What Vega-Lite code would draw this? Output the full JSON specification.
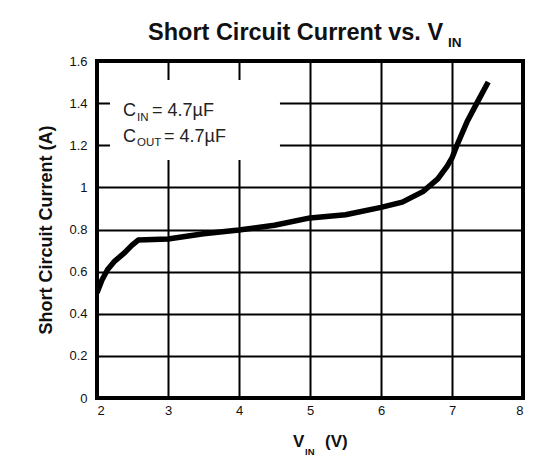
{
  "$schema": "https://vega.github.io/schema/vega-lite/v6.json",
  "width": 426,
  "height": 337,
  "autosize": {"type": "none"},
  "padding": {"left": 97, "top": 61, "right": 26, "bottom": 75},
  "background": "white",
  "config": {
    "view": {"stroke": "black", "strokeWidth": 4},
    "font": "Liberation Sans"
  },
  "datasets": {
    "curve": [
      {"x": 2.0, "y": 0.5},
      {"x": 2.07, "y": 0.56},
      {"x": 2.15, "y": 0.61},
      {"x": 2.25, "y": 0.65},
      {"x": 2.39, "y": 0.69},
      {"x": 2.49, "y": 0.725},
      {"x": 2.58, "y": 0.75},
      {"x": 3.0, "y": 0.755},
      {"x": 3.5, "y": 0.78},
      {"x": 4.0, "y": 0.798},
      {"x": 4.5, "y": 0.82},
      {"x": 5.0, "y": 0.855},
      {"x": 5.5, "y": 0.87},
      {"x": 6.0, "y": 0.905},
      {"x": 6.3, "y": 0.93},
      {"x": 6.59, "y": 0.98},
      {"x": 6.8, "y": 1.04},
      {"x": 6.93, "y": 1.1},
      {"x": 7.0, "y": 1.14},
      {"x": 7.07, "y": 1.2},
      {"x": 7.21, "y": 1.31},
      {"x": 7.35, "y": 1.4},
      {"x": 7.51, "y": 1.5}
    ],
    "box": [{"x": 2.183, "x2": 4.577, "y": 1.13, "y2": 1.51}],
    "labels": [
      {"part": "title", "text": "Short Circuit Current vs. V", "x": 2.7183, "y": 1.6997},
      {"part": "titlesub", "text": "IN", "x": 6.9437, "y": 1.6665},
      {"part": "note", "text": "C", "x": 2.3662, "y": 1.3389},
      {"part": "notesub", "text": "IN", "x": 2.5634, "y": 1.3151},
      {"part": "note", "text": "= 4.7µF", "x": 2.7746, "y": 1.3389},
      {"part": "note", "text": "C", "x": 2.3662, "y": 1.2154},
      {"part": "notesub", "text": "OUT", "x": 2.5634, "y": 1.1964},
      {"part": "note", "text": "= 4.7µF", "x": 2.9437, "y": 1.2154},
      {"part": "xtitle", "text": "V", "x": 4.7606, "y": -0.2326},
      {"part": "xtitlesub", "text": "IN", "x": 4.9296, "y": -0.2706},
      {"part": "xtitle", "text": "(V)", "x": 5.2113, "y": -0.2326}
    ]
  },
  "layer": [
    {
      "data": {"name": "box"},
      "mark": {"type": "rect", "fill": "white", "stroke": null},
      "encoding": {
        "x": {
          "field": "x", "type": "quantitative",
          "scale": {"domain": [2, 8], "nice": false, "zero": false},
          "axis": {
            "title": null, "values": [2, 3, 4, 5, 6, 7, 8], "format": "~g",
            "grid": true, "gridColor": "black", "gridWidth": 2, "gridOpacity": 1,
            "domain": false, "ticks": false, "labelPadding": 6,
            "labelFontSize": 13, "labelColor": "#111", "labelFont": "Liberation Sans"
          }
        },
        "x2": {"field": "x2"},
        "y": {
          "field": "y", "type": "quantitative",
          "scale": {"domain": [0, 1.6], "nice": false},
          "axis": {
            "title": "Short Circuit Current (A)",
            "values": [0, 0.2, 0.4, 0.6, 0.8, 1, 1.2, 1.4, 1.6], "format": "~g",
            "grid": true, "gridColor": "black", "gridWidth": 2, "gridOpacity": 1,
            "domain": false, "ticks": false, "labelPadding": 10,
            "labelFontSize": 13, "labelColor": "#111", "labelFont": "Liberation Sans",
            "titleFontSize": 18, "titleFontWeight": "bold", "titleColor": "#111",
            "titleFont": "Liberation Sans", "titlePadding": 13
          }
        },
        "y2": {"field": "y2"}
      }
    },
    {
      "data": {"name": "curve"},
      "mark": {"type": "line", "color": "black", "strokeWidth": 5.5, "clip": true, "strokeJoin": "round"},
      "encoding": {
        "x": {"field": "x", "type": "quantitative"},
        "y": {"field": "y", "type": "quantitative"}
      }
    },
    {
      "data": {"name": "labels"},
      "transform": [{"filter": "datum.part === 'title'"}],
      "mark": {"type": "text", "align": "left", "baseline": "alphabetic", "fontSize": 23.5, "fontWeight": "bold", "color": "#111", "font": "Liberation Sans"},
      "encoding": {
        "x": {"field": "x", "type": "quantitative"},
        "y": {"field": "y", "type": "quantitative"},
        "text": {"field": "text"}
      }
    },
    {
      "data": {"name": "labels"},
      "transform": [{"filter": "datum.part === 'titlesub'"}],
      "mark": {"type": "text", "align": "left", "baseline": "alphabetic", "fontSize": 13.5, "fontWeight": "bold", "color": "#111", "font": "Liberation Sans"},
      "encoding": {
        "x": {"field": "x", "type": "quantitative"},
        "y": {"field": "y", "type": "quantitative"},
        "text": {"field": "text"}
      }
    },
    {
      "data": {"name": "labels"},
      "transform": [{"filter": "datum.part === 'note'"}],
      "mark": {"type": "text", "align": "left", "baseline": "alphabetic", "fontSize": 18, "color": "#222", "font": "Liberation Sans"},
      "encoding": {
        "x": {"field": "x", "type": "quantitative"},
        "y": {"field": "y", "type": "quantitative"},
        "text": {"field": "text"}
      }
    },
    {
      "data": {"name": "labels"},
      "transform": [{"filter": "datum.part === 'notesub'"}],
      "mark": {"type": "text", "align": "left", "baseline": "alphabetic", "fontSize": 11.5, "color": "#222", "font": "Liberation Sans"},
      "encoding": {
        "x": {"field": "x", "type": "quantitative"},
        "y": {"field": "y", "type": "quantitative"},
        "text": {"field": "text"}
      }
    },
    {
      "data": {"name": "labels"},
      "transform": [{"filter": "datum.part === 'xtitle'"}],
      "mark": {"type": "text", "align": "left", "baseline": "alphabetic", "fontSize": 17, "fontWeight": "bold", "color": "#111", "font": "Liberation Sans"},
      "encoding": {
        "x": {"field": "x", "type": "quantitative"},
        "y": {"field": "y", "type": "quantitative"},
        "text": {"field": "text"}
      }
    },
    {
      "data": {"name": "labels"},
      "transform": [{"filter": "datum.part === 'xtitlesub'"}],
      "mark": {"type": "text", "align": "left", "baseline": "alphabetic", "fontSize": 9.5, "fontWeight": "bold", "color": "#111", "font": "Liberation Sans"},
      "encoding": {
        "x": {"field": "x", "type": "quantitative"},
        "y": {"field": "y", "type": "quantitative"},
        "text": {"field": "text"}
      }
    }
  ]
}
